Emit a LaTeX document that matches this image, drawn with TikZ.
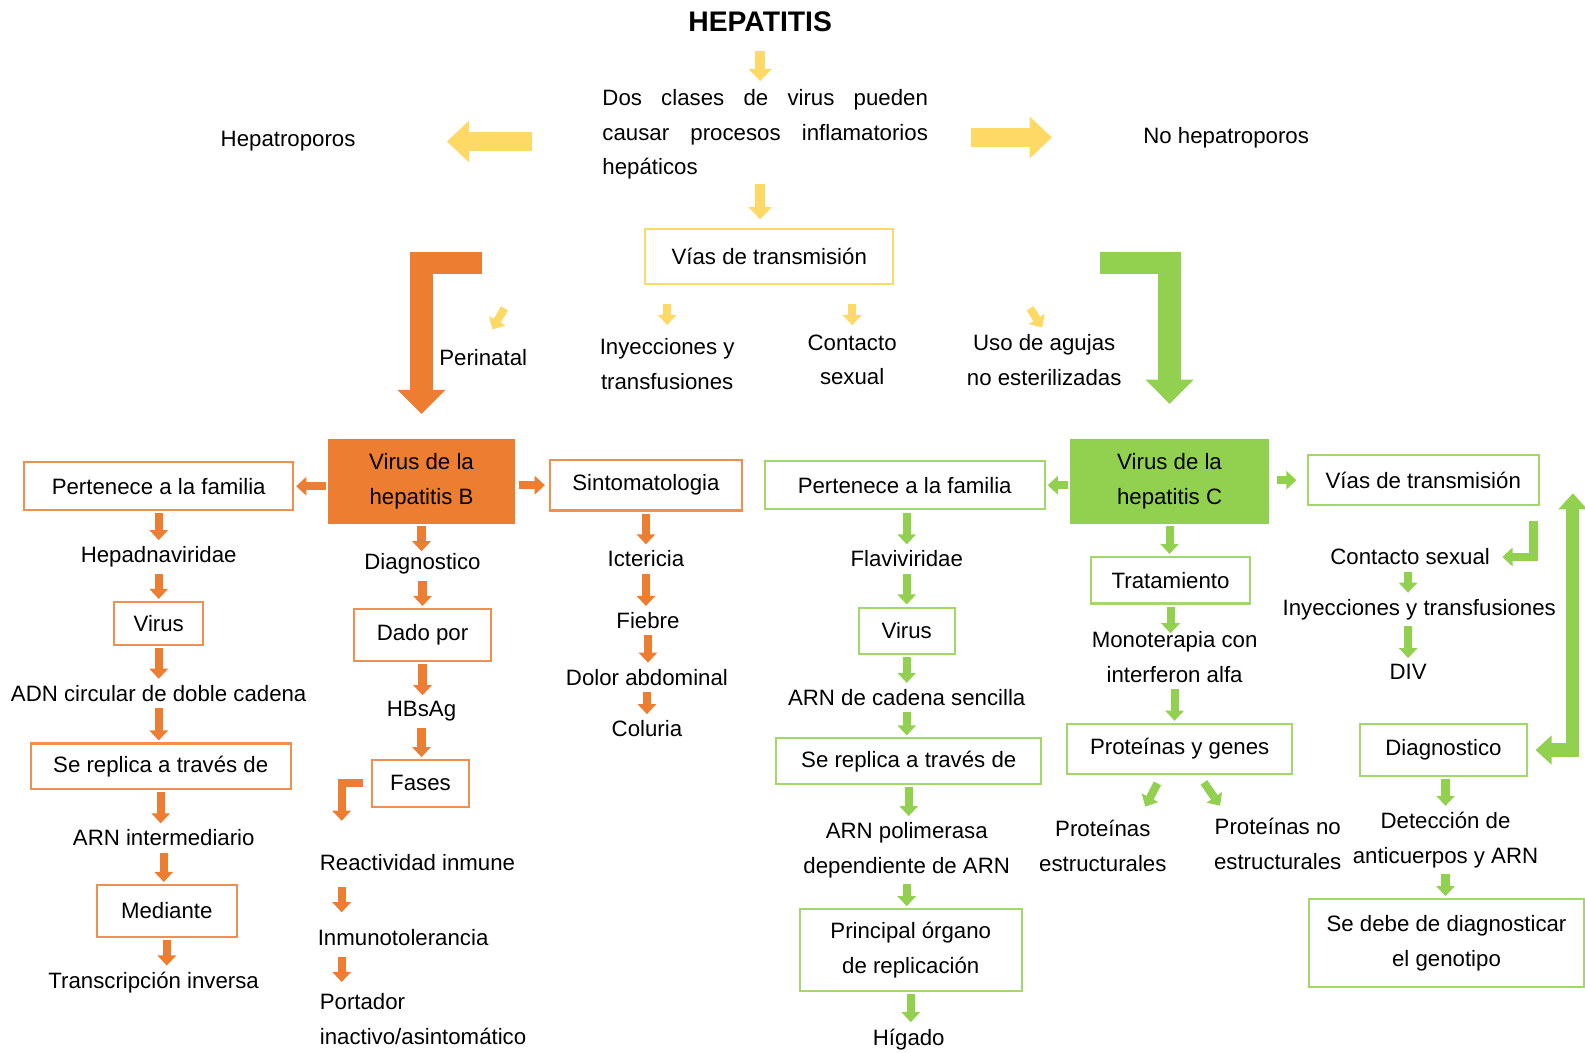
\documentclass[tikz,border=0pt]{standalone}
\usepackage{fontspec}
\setmainfont{Liberation Sans}
\usetikzlibrary{arrows.meta}

\definecolor{naranja}{HTML}{ED7D31}
\definecolor{verde}{HTML}{92D050}
\definecolor{amarillo}{HTML}{FFD966}

\tikzset{
  texto/.style={font=\fontsize{11}{17}\selectfont, align=center, inner sep=2pt},
  titulo/.style={font=\fontsize{14}{17}\selectfont\bfseries, inner sep=2pt},
  cajaA/.style={texto, draw=amarillo, line width=1pt},
  cajaB/.style={texto, draw=naranja!85, line width=1pt},
  cajaC/.style={texto, draw=verde!85, line width=1pt},
  llenoB/.style={texto, fill=naranja, minimum width=92.5pt, minimum height=42pt},
  llenoC/.style={texto, fill=verde, minimum width=98pt, minimum height=42pt},
  %% arrows
  flecha/.style={line width=4pt, line join=miter, -{Triangle[length=5pt,width=9pt]}, shorten <=1pt, shorten >=1pt},
  flechaA/.style={flecha, amarillo},
  flechaB/.style={flecha, naranja},
  flechaC/.style={flecha, verde},
  bajaA/.style={amarillo, line width=5pt, -{Triangle[length=6pt,width=11pt]}},
  anchaA/.style={amarillo, line width=9pt, -{Triangle[length=11pt,width=20pt]}},
  gruesa/.style={line width=11pt, line join=miter, -{Triangle[length=12pt,width=23pt]}},
  doble/.style={verde, line width=6.5pt, line join=miter, {Triangle[length=8pt,width=14pt]}-{Triangle[length=8pt,width=14pt]}}
}

\begin{document}
\begin{tikzpicture}[x=0.5pt,y=-0.5pt]
  \useasboundingbox (0,0) rectangle (1568,1041);

  %% top
  \node[titulo] (tit) at (752,22) {HEPATITIS};
  \node[texto, text width=161pt, align=left] (dos) at (757,133)
    {Dos\hfill clases\hfill de\hfill virus\hfill pueden\\causar\hfill procesos\hfill inflamatorios\\hepáticos};
  \node[texto] (hepa) at (285,140) {Hepatroporos};
  \node[texto] (nohepa) at (1213,136) {No hepatroporos};
  \node[cajaA, minimum width=122.5pt, minimum height=27pt] (viasA) at (761,254) {Vías de transmisión};
  \node[texto] (peri) at (478,354) {Perinatal};
  \node[texto] (inyA) at (660,360) {Inyecciones y\\transfusiones};
  \node[texto] (contA) at (843,356) {Contacto\\sexual};
  \node[texto] (usoA) at (1033,356) {Uso de agujas\\no esterilizadas};

  \draw[bajaA, shorten <=7pt, shorten >=2pt] (tit) -- (tit |- dos.north);
  \draw[bajaA, shorten >=4.5pt] (dos.south -| tit) -- (viasA.north -| tit);
  \draw[anchaA, shorten <=32.5pt, shorten >=43pt] (dos.west |- hepa) -- (hepa);
  \draw[anchaA, shorten <=19pt, shorten >=43pt] (dos.east |- nohepa) -- (nohepa);
  \draw[flechaA, shorten <=9.5pt, shorten >=4.5pt] (viasA.south -| inyA) -- (inyA);
  \draw[flechaA, shorten <=9.5pt, shorten >=2.5pt] (viasA.south -| contA) -- (contA);
  \coordinate (pa) at (499,305);
  \coordinate (pb) at (487,326);
  \draw[flechaA, shorten <=0pt, shorten >=0pt] (pa) -- (pb);
  \coordinate (ua) at (1019,305);
  \coordinate (ub) at (1031,324);
  \draw[flechaA, shorten <=0pt, shorten >=0pt] (ua) -- (ub);

  %% hepatitis B
  \node[llenoB] (vhb) at (417,476) {Virus de la\\hepatitis B};
  \coordinate (lb) at (477,260);
  \draw[gruesa, naranja, shorten >=12pt] (lb) -| (vhb);

  \node[cajaB, minimum width=133pt, minimum height=23.5pt] (famB) at (157,481) {Pertenece a la familia};
  \node[texto] (hepad) at (157,551) {Hepadnaviridae};
  \node[cajaB, minimum width=44pt, minimum height=21.5pt] (virB) at (157,617) {Virus};
  \node[texto] (adn) at (157,686) {ADN circular de doble cadena};
  \node[cajaB, minimum width=128.5pt, minimum height=22.5pt] (repB) at (159,758) {Se replica a través de};
  \node[texto] (arni) at (162,829) {ARN intermediario};
  \node[cajaB, minimum width=69.5pt, minimum height=25.5pt] (medi) at (165,901) {Mediante};
  \node[texto] (trans) at (152,972) {Transcripción inversa};

  \draw[flechaB] (vhb.west |- famB) -- (famB);
  \draw[flechaB] (famB.south) -- (famB.south |- hepad.north);
  \draw[flechaB] (hepad.south) -- (hepad.south |- virB.north);
  \draw[flechaB] (virB.south) -- (virB.south |- adn.north);
  \draw[flechaB] (adn.south) -- (adn.south |- repB.north);
  \draw[flechaB] (repB.south) -- (repB.south |- arni.north);
  \draw[flechaB] (arni.south) -- (arni.south |- medi.north);
  \draw[flechaB] (medi.south) -- (medi.south |- trans.north);

  \node[texto] (diagB) at (418,558) {Diagnostico};
  \node[cajaB, minimum width=67.5pt, minimum height=25.5pt] (dado) at (418,628) {Dado por};
  \node[texto] (hbs) at (417,704) {HBsAg};
  \node[cajaB, minimum width=48pt, minimum height=23pt] (fases) at (416,775) {Fases};
  \node[texto, anchor=west] (reac) at (312,853) {Reactividad inmune};
  \node[texto, anchor=west] (inmu) at (310,927) {Inmunotolerancia};
  \node[texto, anchor=west, align=left] (port) at (312,1008) {Portador\\inactivo/asintomático};
  \coordinate (cf) at (338,812);

  \draw[flechaB, shorten >=-1pt] (vhb.south) -- (vhb.south |- diagB.north);
  \draw[flechaB] (diagB.south) -- (diagB.south |- dado.north);
  \draw[flechaB] (dado.south) -- (dado.south |- hbs.north);
  \draw[flechaB] (hbs.south) -- (hbs.south |- fases.north);
  \draw[flechaB, shorten <=4pt, shorten >=0pt] (fases.west) -| (cf);
  \draw[flechaB, shorten <=6pt, shorten >=6pt] (cf |- reac.south) -- (cf |- inmu.north);
  \draw[flechaB, shorten <=3.5pt, shorten >=3.5pt] (cf |- inmu.south) -- (cf |- port.north);

  \node[cajaB, minimum width=95pt, minimum height=25pt] (sint) at (639,480) {Sintomatologia};
  \node[texto] (icte) at (639,553) {Ictericia};
  \node[texto] (fieb) at (641,614) {Fiebre};
  \node[texto] (dolor) at (640,670) {Dolor abdominal};
  \node[texto] (colu) at (640,721) {Coluria};

  \draw[flechaB, shorten <=2pt, shorten >=2pt] (vhb.east |- sint) -- (sint);
  \draw[flechaB] (sint.south) -- (sint.south |- icte.north);
  \draw[flechaB] (icte.south) -- (icte.south |- fieb.north);
  \draw[flechaB] (fieb.south) -- (fieb.south |- dolor.north);
  \draw[flechaB] (dolor.south) -- (dolor.south |- colu.north);

  %% hepatitis C
  \node[llenoC] (vhc) at (1157,476) {Virus de la\\hepatitis C};
  \coordinate (lc) at (1088,260);
  \draw[gruesa, verde, shorten >=17pt] (lc) -| (vhc);

  \node[cajaC, minimum width=138.5pt, minimum height=24pt] (famC) at (895,480) {Pertenece a la familia};
  \node[texto] (flavi) at (897,553) {Flaviviridae};
  \node[cajaC, minimum width=47.5pt, minimum height=23pt] (virC) at (897,624) {Virus};
  \node[texto] (arnc) at (897,690) {ARN de cadena sencilla};
  \node[cajaC, minimum width=131pt, minimum height=22.5pt] (repC) at (899,753) {Se replica a través de};
  \node[texto] (pol) at (897,841) {ARN polimerasa\\dependiente de ARN};
  \node[cajaC, minimum width=110pt, minimum height=40.5pt] (princ) at (901,940) {Principal órgano\\de replicación};
  \node[texto] (higa) at (899,1028) {Hígado};

  \draw[flechaC] (vhc.west |- famC) -- (famC);
  \draw[flechaC] (flavi.north |- famC.south) -- (flavi);
  \draw[flechaC] (flavi.south) -- (flavi.south |- virC.north);
  \draw[flechaC] (virC.south) -- (virC.south |- arnc.north);
  \draw[flechaC] (arnc.south) -- (arnc.south |- repC.north);
  \draw[flechaC] (repC.south) -- (repC.south |- pol.north);
  \draw[flechaC] (pol.south) -- (pol.south |- princ.north);
  \draw[flechaC] (princ.south) -- (princ.south |- higa.north);

  \node[cajaC, minimum width=79pt, minimum height=23pt] (trat) at (1158,574) {Tratamiento};
  \node[texto] (mono) at (1162,650) {Monoterapia con\\interferon alfa};
  \node[cajaC, minimum width=111.5pt, minimum height=25pt] (prot) at (1167,741) {Proteínas y genes};
  \node[texto] (pest) at (1091,837) {Proteínas\\estructurales};
  \node[texto] (pnoest) at (1264,835) {Proteínas no\\estructurales};

  \draw[flechaC] (vhc.south) -- (vhc.south |- trat.north);
  \draw[flechaC, shorten >=-3pt] (trat.south) -- (trat.south |- mono.north);
  \draw[flechaC] (mono.south) -- (mono.south |- prot.north);
  \coordinate (pe1) at (1145,775);
  \coordinate (pe2) at (1133,798);
  \draw[flechaC, shorten <=0pt, shorten >=0pt] (pe1) -- (pe2);
  \coordinate (pn1) at (1191,774);
  \coordinate (pn2) at (1207,797);
  \draw[flechaC, shorten <=0pt, shorten >=0pt] (pn1) -- (pn2);

  \node[cajaC, minimum width=114.5pt, minimum height=25pt] (viasC) at (1408,475) {Vías de transmisión};
  \node[texto] (contC) at (1395,551) {Contacto sexual};
  \node[texto] (inyC) at (1404,603) {Inyecciones y transfusiones};
  \node[texto] (div) at (1393,665) {DIV};
  \node[cajaC, minimum width=82.5pt, minimum height=25.5pt] (diagC) at (1428,742) {Diagnostico};
  \node[texto] (detec) at (1430,831) {Detección de\\anticuerpos y ARN};
  \node[cajaC, minimum width=136pt, minimum height=43.5pt] (genot) at (1431,933) {Se debe de diagnosticar\\el genotipo};

  \draw[flechaC, shorten <=4pt, shorten >=5pt] (vhc.east |- viasC) -- (viasC);
  \coordinate (cs) at (1517,515);
  \draw[flechaC, shorten <=0pt, shorten >=4pt] (cs) |- (contC);
  \draw[flechaC] (div |- contC.south) -- (div |- inyC.north);
  \draw[flechaC] (div |- inyC.south) -- (div);
  \coordinate (bt) at (1556,488);
  \draw[doble, shorten >=3.75pt] (bt) |- (diagC);
  \draw[flechaC] (detec.north |- diagC.south) -- (detec);
  \draw[flechaC] (detec.south) -- (detec.south |- genot.north);
\end{tikzpicture}
\end{document}
